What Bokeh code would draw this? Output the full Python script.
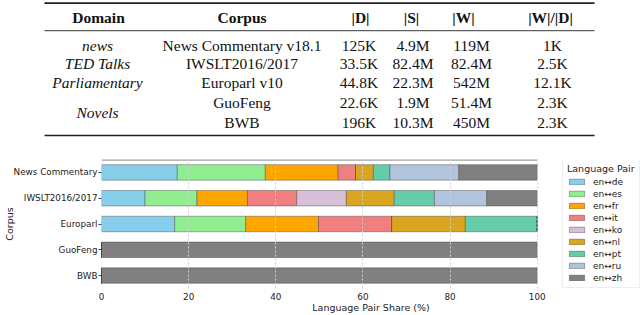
from bokeh.plotting import figure
from bokeh.models import Range1d, FactorRange, ColumnDataSource, Legend, LegendItem
from bokeh.core.properties import value
from bokeh.embed import file_html
from bokeh.resources import INLINE

# ---------------- data ----------------
# table
headers = ["Domain", "Corpus", "|D|", "|S|", "|W|", "|W|/|D|"]
domains = ["news", "TED Talks", "Parliamentary", "Novels"]
corpus_names = ["News Commentary v18.1", "IWSLT2016/2017", "Europarl v10", "GuoFeng", "BWB"]
col_D = ["125K", "33.5K", "44.8K", "22.6K", "196K"]
col_S = ["4.9M", "82.4M", "22.3M", "1.9M", "10.3M"]
col_W = ["119M", "82.4M", "542M", "51.4M", "450M"]
col_WD = ["1K", "2.5K", "12.1K", "2.3K", "2.3K"]

# chart
corpora = ["News Commentary", "IWSLT2016/2017", "Europarl", "GuoFeng", "BWB"]
pair_keys = ["de", "es", "fr", "it", "ko", "nl", "pt", "ru", "zh"]
pair_labels = ["en\u2194de", "en\u2194es", "en\u2194fr", "en\u2194it", "en\u2194ko",
               "en\u2194nl", "en\u2194pt", "en\u2194ru", "en\u2194zh"]
share_de = [17.4, 10.0, 16.8, 0, 0]
share_es = [20.2, 11.9, 16.3, 0, 0]
share_fr = [16.7, 11.6, 16.7, 0, 0]
share_it = [4.0, 11.3, 16.8, 0, 0]
share_ko = [0, 11.4, 0, 0, 0]
share_nl = [4.1, 11.0, 16.9, 0, 0]
share_pt = [3.8, 9.2, 16.5, 0, 0]
share_ru = [15.8, 12.0, 0, 0, 0]
share_zh = [18.0, 11.6, 0, 100, 100]
x_ticks = [0, 20, 40, 60, 80, 100]

colors = ["#87CEEB", "#90EE90", "#FFA500", "#F08080", "#D8BFD8",
          "#DAA520", "#66CDAA", "#B0C4DE", "#808080"]

# ---------------- table figure ----------------
W = 640
TH = 140
t = figure(width=W, height=TH, x_range=Range1d(0, W), y_range=Range1d(TH, 0),
           output_backend="svg", toolbar_location=None, min_border=0,
           x_axis_location=None, y_axis_location=None)
t.outline_line_color = None
t.grid.visible = False

serif = value("Liberation Serif")
fs = "15.5px"
ink = "#111111"

# rules
t.segment(x0=[44], y0=[2.6], x1=[594], y1=[2.6], line_width=1.6, line_color="#222222")
t.segment(x0=[44], y0=[30.2], x1=[594], y1=[30.2], line_width=0.9, line_color="#222222")
t.segment(x0=[44], y0=[135], x1=[594], y1=[135], line_width=1.6, line_color="#222222")

hdr_x = [98, 241.5, 360, 411, 463, 550]
t.text(x=hdr_x, y=[16.5] * 6, text=headers, text_font=serif, text_font_size=fs,
       text_font_style="bold", text_align="center", text_baseline="middle", text_color=ink)

row_y = [44.5, 63, 82, 101.5, 122]
dom_y = [row_y[0], row_y[1], row_y[2], (row_y[3] + row_y[4]) / 2]
t.text(x=[97] * 4, y=dom_y, text=domains, text_font=serif, text_font_size=fs,
       text_font_style="italic", text_align="center", text_baseline="middle", text_color=ink)
t.text(x=[241.5] * 5, y=row_y, text=corpus_names, text_font=serif, text_font_size=fs,
       text_align="center", text_baseline="middle", text_color=ink)
for cx, col in zip([358.5, 412.5, 471, 552], [col_D, col_S, col_W, col_WD]):
    t.text(x=[cx] * 5, y=row_y, text=col, text_font=serif, text_font_size=fs,
           text_align="center", text_baseline="middle", text_color=ink)

# ---------------- chart figure ----------------
src = ColumnDataSource(dict(corpus=corpora, de=share_de, es=share_es, fr=share_fr,
                            it=share_it, ko=share_ko, nl=share_nl, pt=share_pt,
                            ru=share_ru, zh=share_zh))

# frame extends to the right edge so the legend can sit inside it;
# the x range is widened so that 100 % lands where the reference's bars end
p = figure(width=W, height=315 - TH, y_range=FactorRange(factors=corpora[::-1], range_padding=0),
           x_range=Range1d(0, 123.7), output_backend="svg", toolbar_location=None,
           min_border_left=100, min_border_right=0, min_border_top=19, min_border_bottom=27)
p.outline_line_color = None

rs = p.hbar_stack(pair_keys, y="corpus", height=0.6, color=colors, source=src,
                  line_color="#3a3a3a", line_width=0.5, line_alpha=0.8)

# top spine over the 0-100 span
n = len(corpora)
p.segment(x0=[x_ticks[0]], x1=[x_ticks[-1]], y0=[n], y1=[n], line_color="#a0a0a0", line_width=2.6)

sans = "DejaVu Sans"
p.xaxis.ticker = x_ticks
p.xaxis.axis_label = "Language Pair Share (%)"
p.yaxis.axis_label = "Corpus"
for ax in (p.xaxis, p.yaxis):
    ax.axis_line_color = None
    ax.major_label_text_font = sans
    ax.major_label_text_font_size = "8.8px"
    ax.major_label_text_color = "#222222"
    ax.axis_label_text_font = sans
    ax.axis_label_text_font_size = "9.5px"
    ax.axis_label_text_font_style = "normal"
    ax.axis_label_text_color = "#222222"
    ax.minor_tick_line_color = None
    ax.major_tick_in = 0
p.xaxis.major_tick_out = 0
p.xaxis.major_label_standoff = 4
p.xaxis.axis_label_standoff = -1
p.xaxis.axis_label_text_align = "center"
p.yaxis.major_tick_out = 3
p.yaxis.major_tick_line_color = "#444444"
p.yaxis.major_label_standoff = 1
p.yaxis.axis_label_standoff = -4

p.ygrid.visible = False
p.xgrid.grid_line_color = "#cfcfcf"
p.xgrid.grid_line_dash = "2 2"
p.xgrid.level = "overlay"

items = [LegendItem(label=lab, renderers=[r]) for lab, r in zip(pair_labels, rs)]
lg = Legend(items=items, location=(461, 0), title="Language Pair",
            title_text_font=sans, title_text_font_size="9.5px", title_text_font_style="normal",
            title_text_color="#222222", label_text_font=sans, label_text_font_size="9px",
            label_text_color="#222222", border_line_color="#dddddd",
            background_fill_color="white", background_fill_alpha=1.0,
            padding=4, margin=0, spacing=1, glyph_width=19, glyph_height=7,
            label_height=11, label_standoff=7, title_standoff=2)
p.add_layout(lg)

open("out.html", "w").write(file_html([t, p], INLINE))
